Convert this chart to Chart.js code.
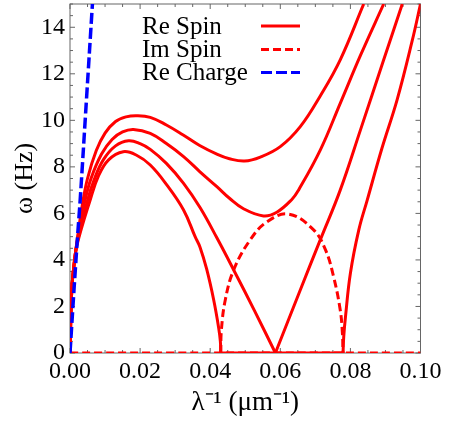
<!DOCTYPE html>
<html>
<head>
<meta charset="utf-8">
<script src="https://cdn.jsdelivr.net/npm/chart.js@4.4.1/dist/chart.umd.min.js"></script>
<style>
  html, body { margin: 0; padding: 0; background: #fff; }
  #wrap { width: 453px; height: 426px; }
</style>
</head>
<body>
<div id="wrap"><canvas id="chart" width="453" height="426"></canvas></div>
<script>
// axis ticks
const xTickValues = [0, 0.02, 0.04, 0.06, 0.08, 0.10];
const xTickLabels = ['0.00', '0.02', '0.04', '0.06', '0.08', '0.10'];
const yTickValues = [0, 2, 4, 6, 8, 10, 12, 14];
const yTickLabels = ['0', '2', '4', '6', '8', '10', '12', '14'];
const legendLabels = ['Re Spin', 'Im Spin', 'Re Charge'];

// Re Spin, four branches (k in 1/um, omega in Hz)
const spin1K = [0, 0.0005, 0.0012, 0.002, 0.0035, 0.005, 0.0075, 0.010, 0.013, 0.016, 0.019, 0.0229, 0.0275, 0.0323, 0.037, 0.0419, 0.0455, 0.0498, 0.0543, 0.060, 0.0657, 0.0714, 0.0771, 0.0838];
const spin1W = [0, 2.7, 3.85, 4.8, 6.35, 7.5, 8.7, 9.45, 9.95, 10.15, 10.2, 10.13, 9.8, 9.37, 8.92, 8.55, 8.35, 8.25, 8.42, 8.87, 9.73, 11.05, 12.6, 15];

const spin2K = [0, 0.0005, 0.0012, 0.002, 0.0042, 0.006, 0.009, 0.012, 0.015, 0.0181, 0.0229, 0.0275, 0.0324, 0.037, 0.0419, 0.0455, 0.0495, 0.0552, 0.059, 0.0633, 0.0652, 0.0714, 0.0771, 0.0829, 0.0895];
const spin2W = [0, 2.7, 3.85, 4.75, 6.5, 7.5, 8.55, 9.18, 9.5, 9.61, 9.44, 9.0, 8.44, 7.8, 7.15, 6.65, 6.2, 5.89, 6.05, 6.6, 7.0, 8.72, 10.73, 12.8, 15];

const spin3LeftK = [0, 0.0005, 0.0012, 0.002, 0.005, 0.0069, 0.0095, 0.013, 0.0167, 0.020, 0.0229, 0.0275, 0.0324, 0.0371, 0.0419, 0.0467, 0.0527, 0.0586];
const spin3LeftW = [0, 2.7, 3.85, 4.7, 6.55, 7.45, 8.3, 8.9, 9.12, 9.0, 8.75, 8.15, 7.29, 6.25, 4.95, 3.57, 1.8, 0];
const spin3RightK = [0.0586, 0.0657, 0.0714, 0.0771, 0.0829, 0.0895, 0.0948];
const spin3RightW = [0, 2.71, 4.86, 7.0, 9.6, 12.6, 15];

const spin4LeftK = [0, 0.0005, 0.0012, 0.002, 0.0058, 0.0081, 0.011, 0.0152, 0.019, 0.0229, 0.0275, 0.0324, 0.0357, 0.0371, 0.039, 0.041, 0.0424, 0.0429, 0.043];
const spin4LeftW = [0, 2.7, 3.85, 4.65, 6.6, 7.6, 8.3, 8.65, 8.5, 8.08, 7.25, 6.15, 5.0, 4.55, 3.6, 2.28, 1.1, 0.5, 0];
const spin4FlatK = [0.043, 0.0779];
const spin4FlatW = [0, 0];
const spin4RightK = [0.0779, 0.0781, 0.0786, 0.080, 0.0824, 0.0848, 0.089, 0.0933, 0.0976, 0.1];
const spin4RightW = [0, 0.7, 1.56, 3.43, 5.29, 6.57, 8.8, 10.87, 13.4, 15];

// Im Spin
const imSpinK = [0.043, 0.0432, 0.0443, 0.0467, 0.0514, 0.0562, 0.0624, 0.0695, 0.0729, 0.0752, 0.0771, 0.0777, 0.0779];
const imSpinW = [0, 1.0, 2.28, 3.57, 4.86, 5.64, 5.97, 5.29, 4.43, 3.28, 1.85, 0.9, 0];
const imZeroK = [0, 0.1];
const imZeroW = [0, 0];

// Re Charge
const chargeK = [0, 0.0012, 0.0022, 0.0029, 0.0047, 0.0064];
const chargeW = [0, 2.85, 5.1, 6.57, 10.9, 15];

const RED = '#ff0000';
const BLUE = '#0000ff';
const INK = '#000';
const FRAME = '#666';
const SERIF = "'Liberation Serif', 'Times New Roman', serif";

const pts = (ks, ws) => ks.map((k, i) => ({ x: k, y: ws[i] }));

function curve(ks, ws, color, dash, width) {
  return {
    data: pts(ks, ws),
    borderColor: color,
    borderWidth: width,
    borderDash: dash,
    pointRadius: 0,
    tension: 0.4,
    fill: false,
  };
}

const solid = [];
const spinDash = [8, 4];
const chargeDash = [11, 4];

// inner ticks on all four sides plus the frame
const framePlugin = {
  id: 'frame',
  beforeDatasetsDraw(chart) {
    const { ctx, chartArea: a, scales: { x, y } } = chart;
    ctx.save();
    ctx.strokeStyle = FRAME;
    ctx.lineWidth = 1;
    ctx.strokeRect(a.left, a.top, a.right - a.left, a.bottom - a.top);
    ctx.beginPath();
    for (let i = 0; i <= 20; i++) {
      const px = x.getPixelForValue(i * 0.005);
      const len = i % 4 === 0 ? 5 : 3;
      ctx.moveTo(px, a.bottom); ctx.lineTo(px, a.bottom - len);
      ctx.moveTo(px, a.top); ctx.lineTo(px, a.top + len);
    }
    for (let i = 0; i <= 30; i++) {
      const py = y.getPixelForValue(i * 0.5);
      const len = i % 4 === 0 ? 5 : 3;
      ctx.moveTo(a.left, py); ctx.lineTo(a.left + len, py);
      ctx.moveTo(a.right, py); ctx.lineTo(a.right - len, py);
    }
    ctx.stroke();
    ctx.restore();
  },
};

// legend: text first, line sample after it
const legendPlugin = {
  id: 'sideLegend',
  afterDatasetsDraw(chart) {
    const { ctx } = chart;
    const styles = [
      { color: RED, dash: solid },
      { color: RED, dash: spinDash },
      { color: BLUE, dash: chargeDash },
    ];
    const baselines = [33.5, 57, 80];
    const lineY = [26, 49.5, 72.5];
    ctx.save();
    ctx.font = `25px ${SERIF}`;
    ctx.fillStyle = INK;
    ctx.textAlign = 'left';
    ctx.textBaseline = 'alphabetic';
    legendLabels.forEach((label, i) => {
      ctx.fillText(label, 142, baselines[i]);
      ctx.beginPath();
      ctx.strokeStyle = styles[i].color;
      ctx.lineWidth = 3;
      ctx.setLineDash(styles[i].dash);
      ctx.moveTo(261, lineY[i]);
      ctx.lineTo(300, lineY[i]);
      ctx.stroke();
    });
    ctx.restore();
  },
};

new Chart(document.getElementById('chart'), {
  type: 'line',
  data: {
    datasets: [
      curve(chargeK, chargeW, BLUE, chargeDash, 3.5),
      curve(spin1K, spin1W, RED, solid, 3),
      curve(spin2K, spin2W, RED, solid, 3),
      curve(spin3LeftK, spin3LeftW, RED, solid, 3),
      curve(spin3RightK, spin3RightW, RED, solid, 3),
      curve(spin4LeftK, spin4LeftW, RED, solid, 3),
      curve(spin4FlatK, spin4FlatW, RED, solid, 3),
      curve(spin4RightK, spin4RightW, RED, solid, 3),
      curve(imSpinK, imSpinW, RED, spinDash, 3),
      curve(imZeroK, imZeroW, RED, spinDash, 3),
    ],
  },
  options: {
    responsive: false,
    animation: false,
    devicePixelRatio: 1,
    layout: { padding: { left: 0, right: 32.5, top: 4, bottom: 0 } },
    plugins: { legend: { display: false }, tooltip: { enabled: false } },
    scales: {
      x: {
        type: 'linear',
        min: 0,
        max: 0.1,
        afterBuildTicks: (s) => { s.ticks = xTickValues.map((v) => ({ value: v })); },
        afterFit: (s) => { s.height = 73; s.paddingLeft = 0; s.paddingRight = 0; },
        grid: { display: false, drawTicks: false },
        border: { display: false },
        ticks: {
          color: INK,
          padding: 4,
          maxRotation: 0,
          font: { family: SERIF, size: 24 },
          callback: (v, i) => xTickLabels[i],
        },
        title: {
          display: true,
          text: 'λ⁻¹ (μm⁻¹)',
          color: INK,
          font: { family: SERIF, size: 27 },
          padding: { top: 0, bottom: 7 },
        },
      },
      y: {
        type: 'linear',
        min: 0,
        max: 15,
        afterBuildTicks: (s) => { s.ticks = yTickValues.map((v) => ({ value: v })); },
        afterFit: (s) => { s.width = 70; s.paddingTop = 0; s.paddingBottom = 0; },
        grid: { display: false, drawTicks: false },
        border: { display: false },
        ticks: {
          color: INK,
          padding: 5,
          font: { family: SERIF, size: 24 },
          callback: (v, i) => yTickLabels[i],
        },
        title: {
          display: true,
          text: 'ω (Hz)',
          color: INK,
          font: { family: SERIF, size: 26 },
          padding: { top: 10, bottom: 0 },
        },
      },
    },
  },
  plugins: [framePlugin, legendPlugin],
});
</script>
</body>
</html>
